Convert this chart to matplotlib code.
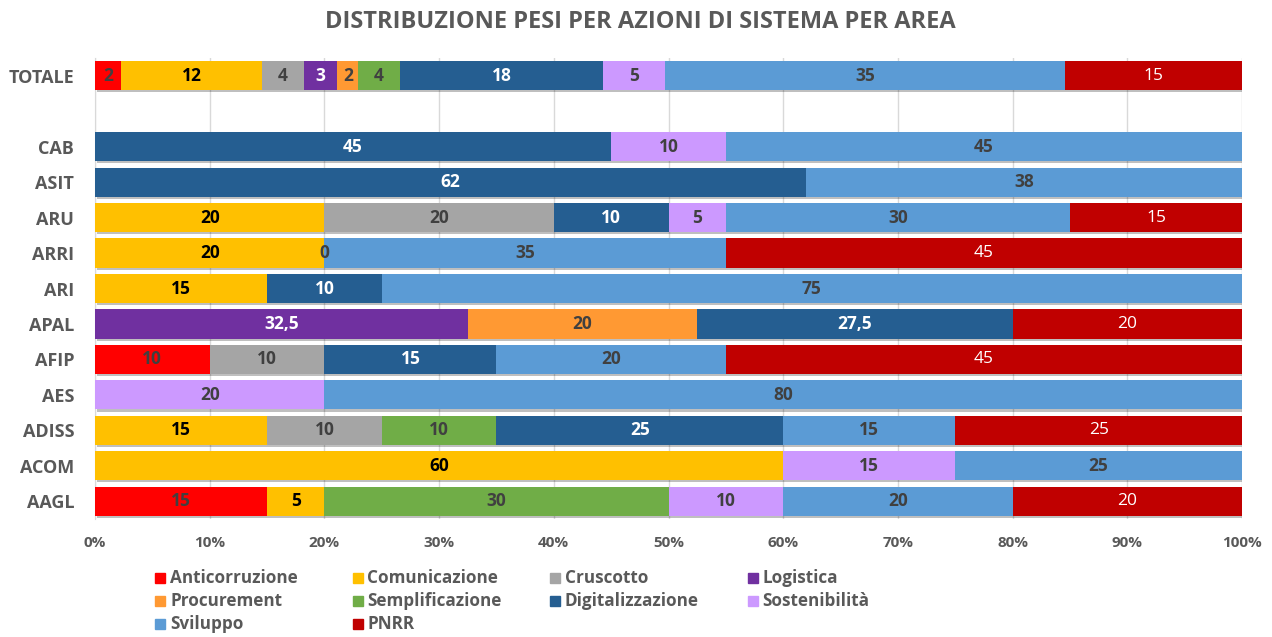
import numpy as np
import matplotlib

matplotlib.use("Agg")
import matplotlib.pyplot as plt
from matplotlib.patches import Rectangle
import matplotlib.patheffects as pe

plt.rcParams["font.family"] = ["Open Sans", "DejaVu Sans"]
plt.rcParams["font.weight"] = "bold"

# categories from bottom to top; "" is the spacer row between TOTALE and the areas
areas = ["AAGL", "ACOM", "ADISS", "AES", "AFIP", "APAL", "ARI", "ARRI", "ARU", "ASIT", "CAB", "", "TOTALE"]

series = ["Anticorruzione", "Comunicazione", "Cruscotto", "Logistica", "Procurement",
          "Semplificazione", "Digitalizzazione", "Sostenibilità", "Sviluppo", "PNRR"]

# one list per series, same order as areas (None = no segment)
anticorruzione   = [15, None, None, None, 10, None, None, None, None, None, None, None, 2.27]
comunicazione    = [5, 60, 15, None, None, None, 15, 20, 20, None, None, None, 12.27]
cruscotto        = [None, None, 10, None, 10, None, None, 0, 20, None, None, None, 3.64]
logistica        = [None, None, None, None, None, 32.5, None, None, None, None, None, None, 2.95]
procurement      = [None, None, None, None, None, 20, None, None, None, None, None, None, 1.82]
semplificazione  = [30, None, 10, None, None, None, None, None, None, None, None, None, 3.64]
digitalizzazione = [None, None, 25, None, 15, 27.5, 10, None, 10, 62, 45, None, 17.68]
sostenibilita    = [10, 15, None, 20, None, None, None, None, 5, None, 10, None, 5.45]
sviluppo         = [20, 25, 15, 80, 20, None, 75, 35, 30, 38, 45, None, 34.82]
pnrr             = [20, None, 25, None, 45, 20, None, 45, 15, None, None, None, 15.45]

values = [anticorruzione, comunicazione, cruscotto, logistica, procurement,
          semplificazione, digitalizzazione, sostenibilita, sviluppo, pnrr]

colors = ["#FF0000", "#FFC000", "#A5A5A5", "#7030A0", "#FF9933",
          "#70AD47", "#255E91", "#CC99FF", "#5B9BD5", "#C00000"]
label_colors = ["#404040", "#000000", "#404040", "#FFFFFF", "#404040",
                "#404040", "#FFFFFF", "#404040", "#404040", "#FFFFFF"]
label_weights = ["bold"] * 9 + ["normal"]

gray = "#595959"


def fmt(v, total_row):
    if total_row:
        return f"{v:.0f}"
    if float(v).is_integer():
        return f"{int(v)}"
    return f"{v:.1f}".replace(".", ",")


fig = plt.figure(figsize=(12.72, 6.37), dpi=100)
ax = fig.add_axes([95 / 1272, 1 - 519 / 637, 1147 / 1272, 461 / 637])

y = np.arange(len(areas))
left = np.zeros(len(areas))
shadow = [pe.SimplePatchShadow(offset=(1.5, -1.5), shadow_rgbFace="#000000", alpha=0.25), pe.Normal()]
for name, vals, c, lc, lw in zip(series, values, colors, label_colors, label_weights):
    w = np.array([0 if v is None else v for v in vals], dtype=float)
    bars = ax.barh(y, w, left=left, height=0.82, color=c, edgecolor="none", zorder=3)
    for b in bars:
        b.set_path_effects(shadow)
    for i, v in enumerate(vals):
        if v is None:
            continue
        ax.text(left[i] + w[i] / 2, y[i], fmt(v, areas[i] == "TOTALE"),
                ha="center", va="center", color=lc, fontsize=12.5, fontweight=lw, zorder=5)
    left += w

ax.set_xlim(0, 100)
ax.set_ylim(-0.5, len(areas) - 0.5)
ax.set_xticks(np.arange(0, 101, 10))
ax.set_xticklabels([f"{t}%" for t in range(0, 101, 10)])
ax.set_yticks(y)
ax.set_yticklabels(areas)
ax.tick_params(axis="x", length=0, pad=12, labelsize=11, labelcolor=gray)
ax.tick_params(axis="y", length=0, pad=15, labelsize=13, labelcolor=gray)
for lab in ax.get_xticklabels() + ax.get_yticklabels():
    lab.set_fontweight("bold")
ax.grid(axis="x", color="#D9D9D9", linewidth=1, zorder=0)
for s in ["top", "right", "bottom"]:
    ax.spines[s].set_visible(False)
ax.spines["left"].set_color("#D9D9D9")

fig.text(640 / 1272, 1 - 22 / 637, "DISTRIBUZIONE PESI PER AZIONI DI SISTEMA PER AREA",
         ha="center", va="center", fontsize=17, fontweight="bold", color=gray)

# legend laid out row by row, four equal columns
for k, (name, c) in enumerate(zip(series, colors)):
    r, col = divmod(k, 4)
    x0 = 155 + col * 197.5
    yc = 578 + r * 23
    fig.add_artist(Rectangle((x0 / 1272, 1 - (yc + 5) / 637), 10 / 1272, 10 / 637,
                             transform=fig.transFigure, color=c))
    fig.text((x0 + 15) / 1272, 1 - yc / 637, name, ha="left", va="center",
             fontsize=12.3, fontweight="bold", color=gray)

fig.savefig("out.png", dpi=100)
